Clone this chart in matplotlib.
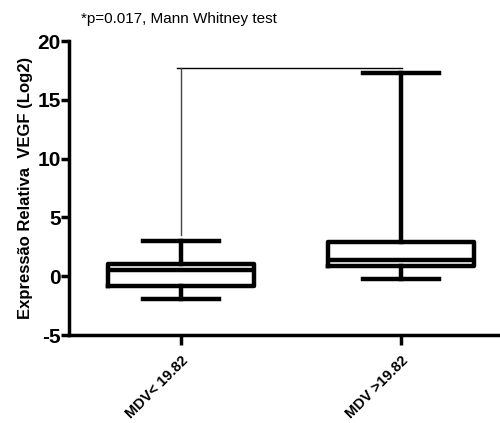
import matplotlib
matplotlib.use("Agg")
from matplotlib import pyplot as plt

plt.rcParams['font.family'] = ['Liberation Sans', 'DejaVu Sans']

groups = ["MDV< 19.82", "MDV >19.82"]
whislo = [-1.9, -0.25]
q1 = [-0.85, 0.9]
med = [0.5, 1.4]
q3 = [1.0, 2.95]
whishi = [3.0, 17.3]

bracket_y = 17.7
bracket_left_bottom = 3.5
yticks = [-5, 0, 5, 10, 15, 20]

fig = plt.figure(figsize=(5, 4.23), dpi=100)
ax = fig.add_axes([0.138, 0.208, 0.862, 0.695])

stats = []
for i, name in enumerate(groups):
    stats.append(dict(label=name, whislo=whislo[i], q1=q1[i], med=med[i],
                      q3=q3[i], whishi=whishi[i], fliers=[]))

lw = 3.2
ax.bxp(stats, positions=[1, 2], widths=0.665, showfliers=False,
       boxprops=dict(linewidth=lw, color='black'),
       medianprops=dict(linewidth=lw, color='black'),
       whiskerprops=dict(linewidth=lw, color='black'),
       capprops=dict(linewidth=lw, color='black'),
       capwidths=0.345)

# significance bracket
ax.plot([0.98, 2.005], [bracket_y, bracket_y], color='black', lw=1.0)
ax.plot([1, 1], [bracket_y, bracket_left_bottom], color='#444444', lw=1.0)

ax.set_xlim(0.49, 2.45)
ax.set_ylim(-5, 20)
ax.set_yticks(yticks)
ax.set_yticklabels([str(t) for t in yticks], fontsize=15, fontweight='bold')
ax.set_xticks([1, 2])
ax.set_xticklabels(groups, rotation=45, ha='right', rotation_mode='anchor',
                   fontsize=10.5, fontweight='bold')

for s in ['top', 'right']:
    ax.spines[s].set_visible(False)
for s in ['left', 'bottom']:
    ax.spines[s].set_linewidth(2.5)
ax.tick_params(axis='y', width=2.5, length=6, pad=0)
ax.tick_params(axis='x', width=2.5, length=7, pad=6)

ax.set_ylabel("Expressão Relativa  VEGF (Log2)", fontsize=12, fontweight='bold',
              labelpad=3)
fig.text(0.162, 0.955, "*p=0.017, Mann Whitney test", fontsize=11, va='center')

fig.savefig("out.png", dpi=100)
